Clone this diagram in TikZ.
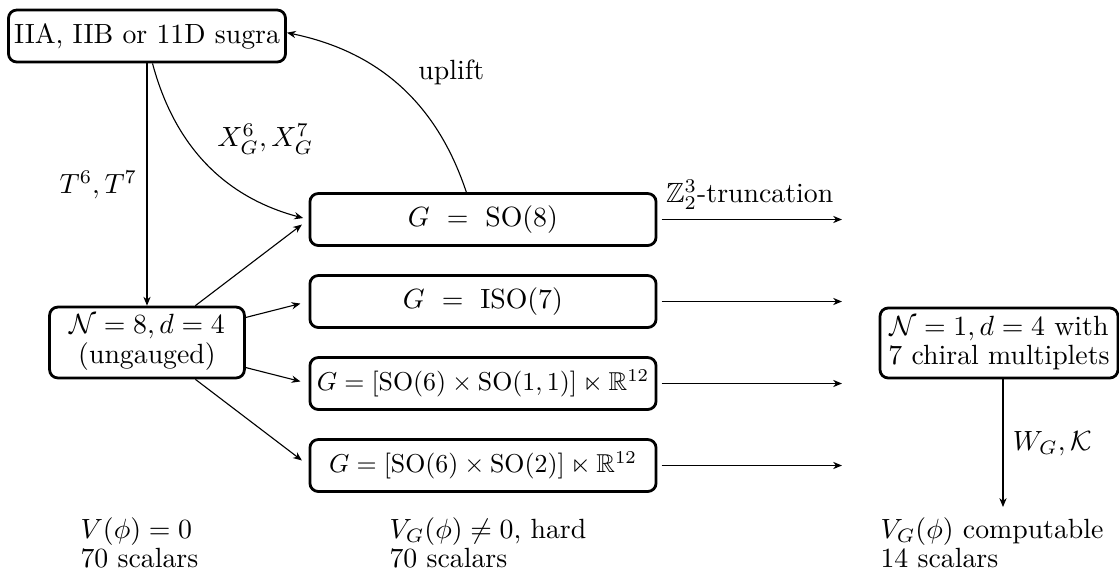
\documentclass[tikz,border=0pt]{standalone}
\usepackage{amssymb}
\usepackage{graphicx}
\usetikzlibrary{calc,arrows.meta}
\begin{document}
\begin{tikzpicture}[x=0.3597pt,y=-0.3597pt,
  every node/.style={font=\fontsize{10pt}{10.6pt}\selectfont},
  box/.style={draw, line width=1pt, rounded corners=3pt, inner xsep=2pt, inner ysep=2pt, align=center},
  gbox/.style={box, minimum width=124.5pt, minimum height=18.7pt},
  conn/.style={-{Stealth[length=3.2pt,width=2.6pt]}, thin},
  note/.style={anchor=north west, inner sep=0pt, align=left}
  ]
\useasboundingbox (0,0) rectangle (1119,572);
% boxes
\node[box, minimum width=99.3pt, minimum height=18.7pt] (sugra) at (147,36) {IIA, IIB or 11D sugra};
\node[box, minimum width=70.1pt, minimum height=25.5pt] (n8) at (147,342.5) {$\mathcal{N}=8, d=4$\\(ungauged)};
\node[gbox] (so8) at (483,219.5) {$G\ =\ \mathrm{SO}(8)$};
\node[gbox] (iso7) at (483,301.5) {$G\ =\ \mathrm{ISO}(7)$};
\node[gbox] (g3) at (483,383.5) {\scalebox{0.93}{$G=[\mathrm{SO}(6)\times\mathrm{SO}(1,1)]\ltimes\mathbb{R}^{12}$}};
\node[gbox] (g4) at (483,465.5) {\scalebox{0.93}{$G=[\mathrm{SO}(6)\times\mathrm{SO}(2)]\ltimes\mathbb{R}^{12}$}};
\node[box, minimum width=85.6pt, minimum height=25.2pt] (n1) at (999,343) {$\mathcal{N}=1, d=4$ with\\7 chiral multiplets};
% free ends
\coordinate (e1) at (842,219.5);
\coordinate (e2) at (842,301.5);
\coordinate (e3) at (842,383.5);
\coordinate (e4) at (842,465.5);
\coordinate (e5) at (1003,507);
% notes
\node[note] (t1) at (80,517) {$V(\phi)=0$\\70 scalars};
\node[note] (t2) at (389,517) {$V_G(\phi)\neq 0$, hard\\70 scalars};
\node[note] (t3) at (880,517) {$V_G(\phi)$ computable\\14 scalars};
% connectors
\draw[conn] (sugra) -- node[left] {$T^6, T^7$} (n8);
\draw[conn, shorten >=2pt] (sugra) to[bend right=30] node[above right, pos=0.5] {$X_G^6, X_G^7$} (so8.west);
\draw[conn] (so8) to[bend right=30] node[above right, pos=0.45] {uplift} (sugra);
\foreach \t in {so8,iso7,g3,g4} \draw[conn, shorten >=3pt] (n8) -- (\t.west);
\draw[conn, shorten <=1.5pt] (so8) -- node[above] {$\mathbb{Z}_2^3$-truncation} (e1);
\draw[conn, shorten <=1.5pt] (iso7) -- (e2);
\draw[conn, shorten <=1.5pt] (g3) -- (e3);
\draw[conn, shorten <=1.5pt] (g4) -- (e4);
\draw[conn] (n1.south -| e5) -- node[right] {$W_G, \mathcal{K}$} (e5);
\end{tikzpicture}
\end{document}
